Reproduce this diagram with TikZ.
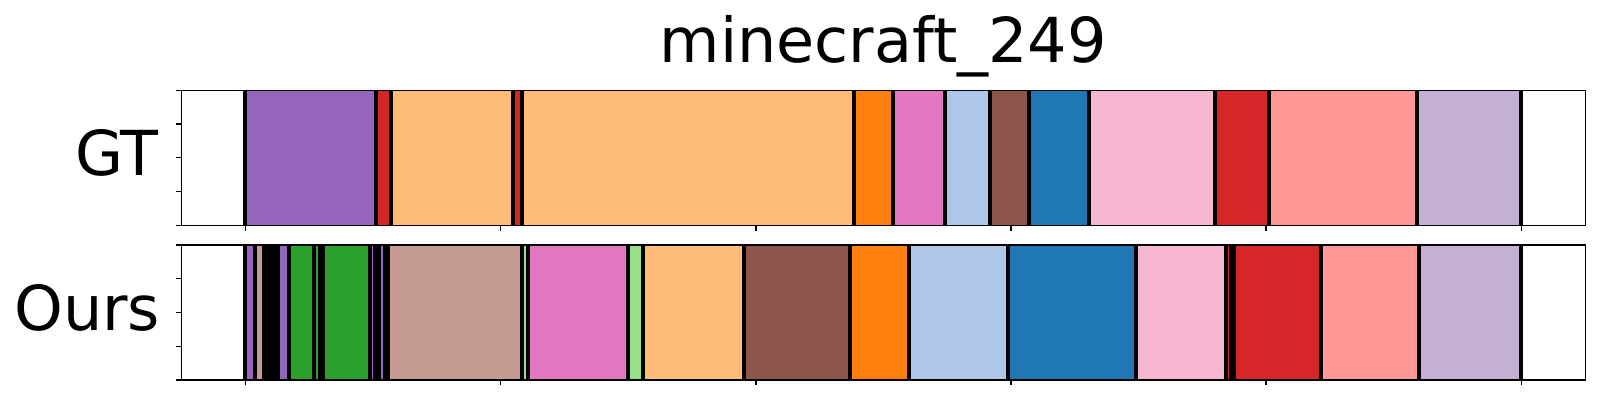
\documentclass[tikz,border=0pt]{standalone}
\usepackage{fontspec}
\setmainfont{DejaVu Sans}
\definecolor{cpurple}{HTML}{9467BD}
\definecolor{cred}{HTML}{D62728}
\definecolor{clorange}{HTML}{FFBB78}
\definecolor{corange}{HTML}{FF7F0E}
\definecolor{cpink}{HTML}{E377C2}
\definecolor{clblue}{HTML}{AEC7E8}
\definecolor{cbrown}{HTML}{8C564B}
\definecolor{cblue}{HTML}{1F77B4}
\definecolor{clpink}{HTML}{F7B6D2}
\definecolor{clred}{HTML}{FF9896}
\definecolor{clpurple}{HTML}{C5B0D5}
\definecolor{crosy}{HTML}{C49C94}
\definecolor{cgreen}{HTML}{2CA02C}
\definecolor{clgreen}{HTML}{98DF8A}
\tikzset{
  spine/.style={draw=black, line width=1.3pt},
  tickline/.style={draw=black, line width=1.3pt},
  bigtext/.style={inner sep=0pt, font=\fontsize{62}{74}\selectfont},
}
\begin{document}
\begin{tikzpicture}[x=1pt,y=-1pt]
\useasboundingbox (0,0) rectangle (1600,400);
\fill[white] (0,0) rectangle (1600,400);
% ---------- GT row ----------
\fill[black] (242.7,90.3) rectangle (1523,225.3);
\foreach \a/\b/\c in {247/373.7/cpurple, 377.7/389/cred, 393/511/clorange, 515/520/cred,
  524/851.7/clorange, 856/890.7/corange, 895/942.7/cpink, 947/987.7/clblue,
  992/1027/cbrown, 1031/1086.7/cblue, 1091/1213/clpink, 1217/1267/cred,
  1271/1415/clred, 1419/1519/clpurple}
  \fill[\c] (\a,90.3) rectangle (\b,225.3);
% ---------- Ours row ----------
\fill[black] (242.7,245) rectangle (1523,380);
\foreach \a/\b/\c in {247/253/cpurple, 257/261.7/crosy, 280/286.7/cpurple,
  291/311.7/cgreen, 316.3/318.3/cgreen, 325/367.7/cgreen, 372.3/373.3/cpurple,
  381/382.7/cpurple, 389.7/520/crosy, 523.7/525.7/clgreen, 530/625.7/cpink,
  630/640.7/clgreen, 645/742/clorange, 746.3/847.7/cbrown, 852/907/corange,
  911.3/1005.7/clblue, 1010/1133.7/cblue, 1138/1223.7/clpink, 1228/1229.3/cred,
  1235.7/1318.7/cred, 1323/1416.7/clred, 1421/1518.7/clpurple}
  \fill[\c] (\a,245) rectangle (\b,380);
% ---------- frames ----------
\draw[spine] (181.3,90.3) rectangle (1585.3,225.3);
\draw[spine] (181.3,245) rectangle (1585.3,380);
% y ticks
\foreach \k in {0,1,2,3,4} {
  \draw[tickline] (176,90.3+\k*33.75) -- (181.3,90.3+\k*33.75);
  \draw[tickline] (176,245+\k*33.75) -- (181.3,245+\k*33.75);
}
% x ticks
\foreach \k in {0,1,2,3,4,5} {
  \draw[tickline] (245.7+\k*255.1,225.3) -- (245.7+\k*255.1,230.5);
  \draw[tickline] (245.7+\k*255.1,380) -- (245.7+\k*255.1,385.2);
}
% ---------- texts ----------
\node[bigtext, anchor=base] (title) at (883.3,62.7) {minecraft\_249};
\node[bigtext, anchor=base east] (gt) at (159,175) {GT};
\node[bigtext, anchor=base east] (ours) at (160.5,330) {Ours};
\end{tikzpicture}
\end{document}
